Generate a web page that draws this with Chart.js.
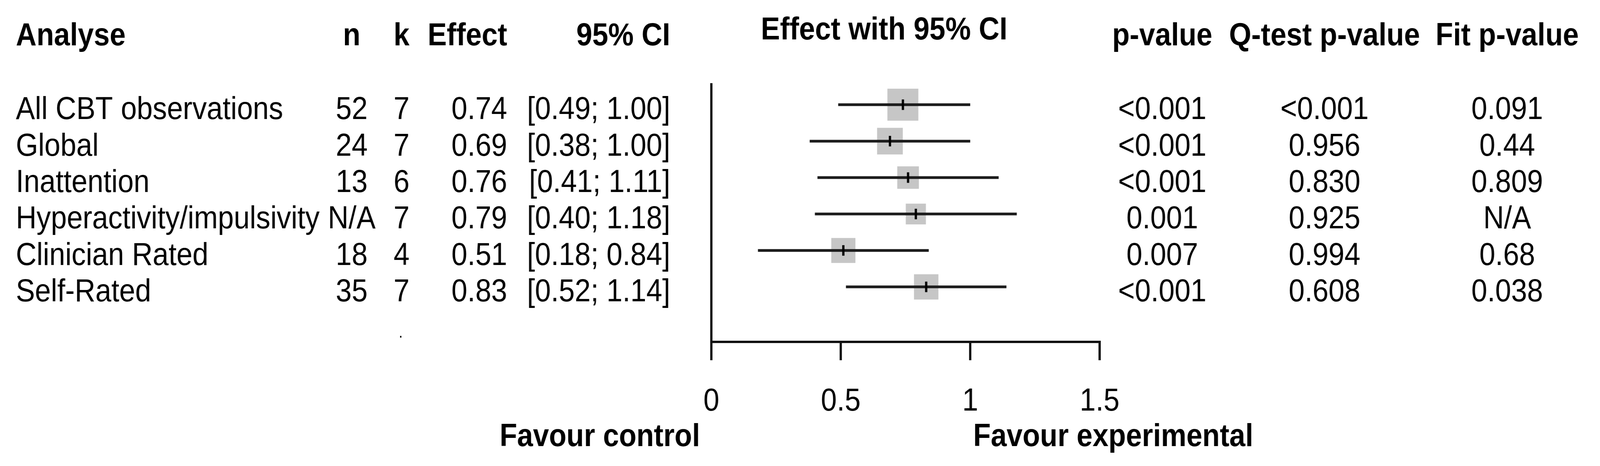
<!DOCTYPE html>
<html>
<head>
<meta charset="utf-8">
<script src="https://cdn.jsdelivr.net/npm/chart.js@4"></script>
<style>
  html, body { margin: 0; padding: 0; background: #fff; overflow: hidden; }
  #forest { display: block; }
</style>
</head>
<body>
<canvas id="forest" width="4240" height="1194"></canvas>
<script>
// ============================
// DATA
// ============================

const analyses = [
  'All CBT observations',
  'Global',
  'Inattention',
  'Hyperactivity/impulsivity',
  'Clinician Rated',
  'Self-Rated'
];
const nObs = ['52', '24', '13', 'N/A', '18', '35'];
const kStudies = ['7', '7', '6', '7', '4', '7'];
const effect = [0.74, 0.69, 0.76, 0.79, 0.51, 0.83];
const ciLow = [0.49, 0.38, 0.41, 0.40, 0.18, 0.52];
const ciHigh = [1.00, 1.00, 1.11, 1.18, 0.84, 1.14];
const pValue = ['<0.001', '<0.001', '<0.001', '0.001', '0.007', '<0.001'];
const qTestP = ['<0.001', '0.956', '0.830', '0.925', '0.994', '0.608'];
const fitP = ['0.091', '0.44', '0.809', 'N/A', '0.68', '0.038'];
// relative weight of each estimate (box size)
const weights = [1.00, 0.83, 0.70, 0.65, 0.78, 0.79];
const xTicks = [0, 0.5, 1, 1.5];

// ============================
// LAYOUT
// ============================

// the window may be narrower than the 4240 design, so the
// canvas keeps 4240 px of drawing and is stretched to fit
const canvas = document.getElementById('forest');
canvas.style.width = window.innerWidth + 'px';
canvas.style.height = window.innerHeight + 'px';

const FONT = '"Liberation Sans", Arial, sans-serif';
const SQUEEZE = 0.925;   // text in the original is a bit condensed
const rows = analyses.map((_, i) => i + 1);

const col = {
  label: 42, n: 932, k: 1064, eff: 1344, ci: 1776,
  p: 3080, q: 3510, fit: 3994
};

function put(ctx, txt, x, y, align, bold, size) {
  ctx.save();
  ctx.font = (bold ? 'bold ' : '') + (size || 82) + 'px ' + FONT;
  ctx.textAlign = align;
  ctx.textBaseline = 'alphabetic';
  ctx.translate(x, y);
  ctx.scale(SQUEEZE, 1);
  ctx.fillText(txt, 0, 0);
  ctx.restore();
}

// table text drawn next to the plot, rows follow the y scale
const tableText = {
  id: 'tableText',
  afterDraw(chart) {
    const ctx = chart.ctx;
    const y = chart.scales.y;
    const x = chart.scales.x;
    ctx.save();
    ctx.fillStyle = '#000';

    // headers
    const hy = 116;
    put(ctx, 'Analyse', col.label, hy, 'left', true);
    put(ctx, 'n', col.n, hy, 'center', true);
    put(ctx, 'k', col.k, hy, 'center', true);
    put(ctx, 'Effect', col.eff, hy, 'right', true);
    put(ctx, '95% CI', col.ci, hy, 'right', true);
    put(ctx, 'Effect with 95% CI', 2343, 101, 'center', true);
    put(ctx, 'p-value', col.p, hy, 'center', true);
    put(ctx, 'Q-test p-value', col.q, hy, 'center', true);
    put(ctx, 'Fit p-value', col.fit, hy, 'center', true);

    // rows
    rows.forEach((r, i) => {
      const by = y.getPixelForValue(r) + 37;
      put(ctx, analyses[i], col.label, by, 'left');
      put(ctx, nObs[i], col.n, by, 'center');
      put(ctx, kStudies[i], col.k, by, 'center');
      put(ctx, effect[i].toFixed(2), col.eff, by, 'right');
      put(ctx, '[' + ciLow[i].toFixed(2) + '; ' + ciHigh[i].toFixed(2) + ']', col.ci, by, 'right');
      put(ctx, pValue[i], col.p, by, 'center');
      put(ctx, qTestP[i], col.q, by, 'center');
      put(ctx, fitP[i], col.fit, by, 'center');
    });
    put(ctx, '.', col.k - 2, y.getPixelForValue(7) + 37, 'center', false, 40);

    // x tick labels
    x.ticks.forEach(t => {
      put(ctx, String(t.value), x.getPixelForValue(t.value), 1052, 'center');
    });

    // bottom captions
    put(ctx, 'Favour control', 1855, 1143, 'right', true);
    put(ctx, 'Favour experimental', 2950, 1143, 'center', true);
    ctx.restore();
  }
};

// ============================
// DATASETS
// ============================

const ciSets = rows.map((r, i) => ({
  type: 'line',
  data: [{ x: ciLow[i], y: r }, { x: ciHigh[i], y: r }],
  borderColor: '#1c1c1c',
  borderWidth: 7,
  pointRadius: 0,
  order: 1
}));

const datasets = [
  {
    type: 'scatter',
    data: rows.map((r, i) => ({ x: effect[i], y: r })),
    pointStyle: 'line',
    rotation: 90,
    pointRadius: 13.5,
    borderColor: '#000',
    borderWidth: 6,
    order: 0
  },
  ...ciSets,
  {
    type: 'scatter',
    data: rows.map((r, i) => ({ x: effect[i], y: r })),
    pointStyle: 'rect',
    pointRadius: ctx => 58 * weights[ctx.dataIndex],
    backgroundColor: '#c6c6c6',
    borderWidth: 0,
    order: 2
  }
];

// ============================
// CHART
// ============================

new Chart(canvas, {
  type: 'scatter',
  data: { datasets },
  plugins: [tableText],
  options: {
    responsive: false,
    devicePixelRatio: 1,
    animation: false,
    events: [],
    layout: { padding: { left: 1885, right: 1326, top: 216, bottom: 0 } },
    plugins: { legend: { display: false }, tooltip: { enabled: false } },
    scales: {
      x: {
        type: 'linear',
        min: 0,
        max: 1.5,
        afterFit: s => { s.height = 318; },
        afterBuildTicks: s => { s.ticks = xTicks.map(v => ({ value: v })); },
        grid: { drawOnChartArea: false, drawTicks: true, tickLength: 47, color: '#111', lineWidth: 6 },
        border: { display: true, color: '#111', width: 6 },
        ticks: { display: false }
      },
      y: {
        type: 'linear',
        reverse: true,
        min: 0.44,
        max: 7.51,
        afterFit: s => { s.width = 0; },
        grid: { display: false },
        border: { display: true, color: '#111', width: 6 },
        ticks: { display: false }
      }
    }
  }
});
</script>
</body>
</html>
